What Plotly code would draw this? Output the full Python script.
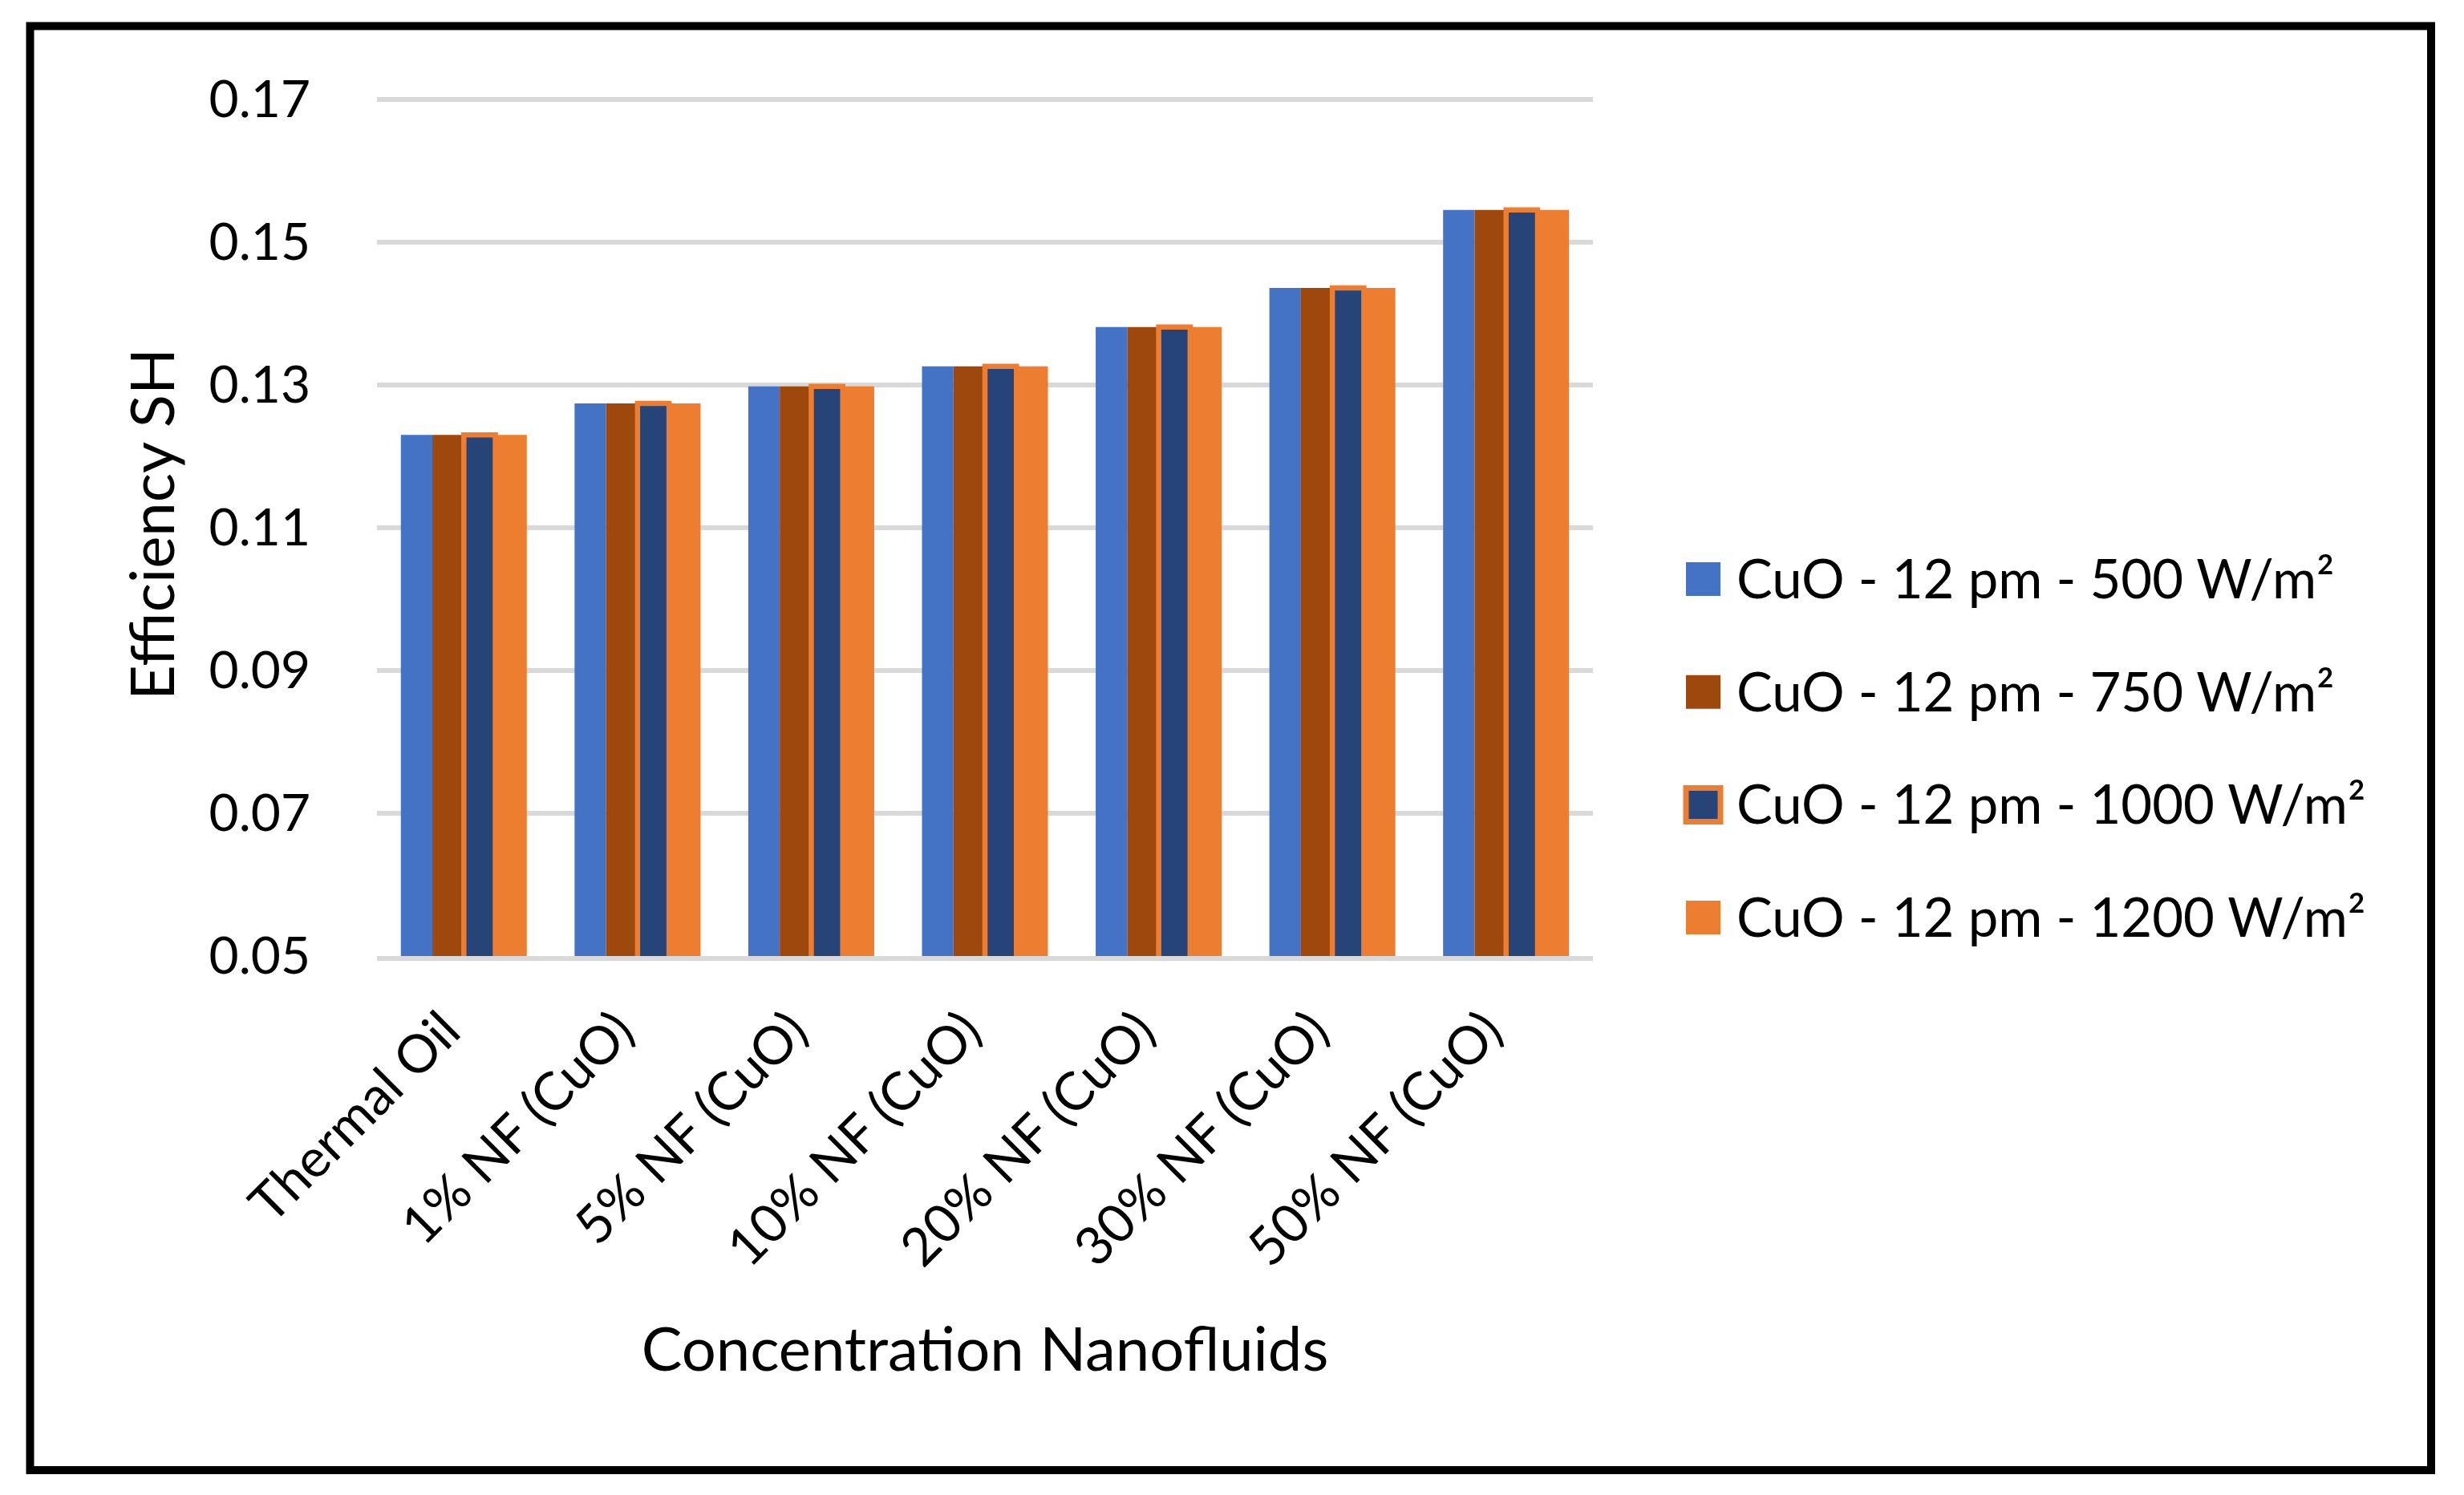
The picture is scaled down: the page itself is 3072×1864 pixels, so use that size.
import plotly.graph_objects as go

categories = ["Thermal Oil", "1% NF (CuO)", "5% NF (CuO)", "10% NF (CuO)",
              "20% NF (CuO)", "30% NF (CuO)", "50% NF (CuO)"]
series_names = ["CuO - 12 pm - 500 W/m²", "CuO - 12 pm - 750 W/m²",
                "CuO - 12 pm - 1000 W/m²", "CuO - 12 pm - 1200 W/m²"]
eff_500 = [0.1230, 0.1274, 0.1298, 0.1326, 0.1381, 0.1436, 0.1545]
eff_750 = [0.1230, 0.1274, 0.1298, 0.1326, 0.1381, 0.1436, 0.1545]
eff_1000 = [0.1230, 0.1274, 0.1298, 0.1326, 0.1381, 0.1436, 0.1545]
eff_1200 = [0.1230, 0.1274, 0.1298, 0.1326, 0.1381, 0.1436, 0.1545]
y_ticks = [0.05, 0.07, 0.09, 0.11, 0.13, 0.15, 0.17]

fills = ["#4472C4", "#9E480E", "#264478", "#ED7D31"]
borders = [None, None, "#ED7D31", None]
values = [eff_500, eff_750, eff_1000, eff_1200]

W, H = 3072, 1864
L, R, T, B = 462, 1978, 116, 1184  # plot area in px (0.17 at T, 0.05 at B)
Y_MIN, Y_MAX_TICK = 0.05, 0.17
PAD = 0.001                          # small headroom so the 0.17 gridline is drawn
px_per_unit = (B - T) / (Y_MAX_TICK - Y_MIN)
T_eff = T - PAD * px_per_unit
FONT = "Lato"

fig = go.Figure()
for i, (name, vals) in enumerate(zip(series_names, values)):
    line = dict(width=6.5, color=borders[i]) if borders[i] else dict(width=0)
    fig.add_trace(go.Bar(
        x=categories, y=vals, name=name, showlegend=False,
        marker=dict(color=fills[i], line=line),
    ))


def pxx(px):
    return (px - L) / (R - L)


def pxy(py):
    return (B - py) / (B - T_eff)


shapes = [dict(
    type="rect", xref="paper", yref="paper",
    x0=pxx(29.5), x1=pxx(3023), y0=pxy(1825), y1=pxy(24.5),
    line=dict(color="black", width=10), fillcolor="rgba(0,0,0,0)",
    layer="above",
)]
annotations = []

# legend (drawn at the right of the plot, Excel-like large swatches)
leg_x0, leg_x1 = 2094, 2137
leg_text_x = 2155
leg_first, leg_step, sw_h = 714, 140.7, 42
for i, name in enumerate(series_names):
    cy = leg_first + i * leg_step
    if borders[i]:
        ln = dict(color=borders[i], width=7)
    else:
        ln = dict(width=0)
    shapes.append(dict(
        type="rect", xref="paper", yref="paper",
        x0=pxx(leg_x0), x1=pxx(leg_x1),
        y0=pxy(cy + sw_h / 2), y1=pxy(cy - sw_h / 2),
        fillcolor=fills[i], line=ln, layer="above",
    ))
    annotations.append(dict(
        xref="paper", yref="paper", x=pxx(leg_text_x), y=pxy(cy - 2),
        xanchor="left", yanchor="middle", showarrow=False, text=name,
        font=dict(family=FONT, size=67, color="black"),
    ))

fig.update_layout(
    width=W, height=H,
    paper_bgcolor="white", plot_bgcolor="white",
    margin=dict(l=L, r=W - R, t=T_eff, b=H - B, autoexpand=False),
    barmode="group", bargap=0.275, bargroupgap=0,
    font=dict(family=FONT, size=64, color="black"),
    showlegend=False,
    xaxis=dict(
        tickangle=-45, showgrid=False, ticks="",
        showline=True, linecolor="#D9D9D9", linewidth=6,
        tickfont=dict(family=FONT, size=66, color="black"),
        ticklabelstandoff=22, ticklabelshift=-24,
        title=dict(text="Concentration Nanofluids", standoff=66,
                   font=dict(family=FONT, size=76, color="black")),
    ),
    yaxis=dict(
        range=[Y_MIN, Y_MAX_TICK + PAD], tickvals=y_ticks, tickformat=".2f",
        showgrid=True, gridcolor="#D9D9D9", gridwidth=6,
        zeroline=False, showline=False, ticks="",
        tickfont=dict(family=FONT, size=64, color="black"),
        ticklabelstandoff=82,
        title=dict(text="Efficiency SH", standoff=17,
                   font=dict(family=FONT, size=76, color="black")),
    ),
    shapes=shapes,
    annotations=annotations,
)

fig.write_html("out.html")
